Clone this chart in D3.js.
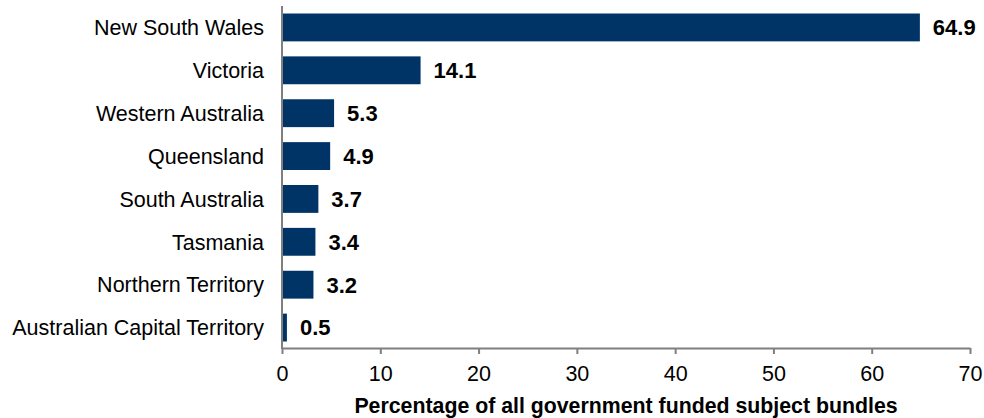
<!DOCTYPE html>
<html>
<head>
<meta charset="utf-8">
<script src="https://cdn.jsdelivr.net/npm/d3@7"></script>
<style>
  body { margin: 0; background: #fff; }
  text { font-family: "Liberation Sans", Arial, sans-serif; }
</style>
</head>
<body>
<svg id="chart"></svg>
<script>
const states = ["New South Wales", "Victoria", "Western Australia", "Queensland",
  "South Australia", "Tasmania", "Northern Territory", "Australian Capital Territory"];
const shares = [64.9, 14.1, 5.3, 4.9, 3.7, 3.4, 3.2, 0.5];
const xTicks = [0, 10, 20, 30, 40, 50, 60, 70];
const xTitle = "Percentage of all government funded subject bundles";

const width = 984, height = 418;
const data = states.map((s, i) => ({ state: s, value: shares[i] }));

const svg = d3.select("#chart")
  .attr("width", width)
  .attr("height", height);

// scales
const x = d3.scaleLinear().domain([0, 70]).range([282, 970]);
const y = d3.scaleBand()
  .domain(states)
  .range([6, 349])
  .paddingInner(0.35)
  .paddingOuter(0.175);

const barColor = "#003466";
const axisColor = "#7f7f7f";

// bars
svg.selectAll("rect.bar")
  .data(data)
  .enter()
  .append("rect")
  .attr("class", "bar")
  .attr("x", x(0))
  .attr("y", d => y(d.state))
  .attr("width", d => x(d.value) - x(0))
  .attr("height", y.bandwidth())
  .attr("fill", barColor);

// value labels
svg.selectAll("text.value")
  .data(data)
  .enter()
  .append("text")
  .attr("class", "value")
  .attr("x", d => x(d.value) + 13)
  .attr("y", d => y(d.state) + y.bandwidth() / 2)
  .attr("dy", "0.36em")
  .style("font-size", "22px")
  .style("font-weight", "bold")
  .attr("fill", "#000")
  .text(d => d.value.toFixed(1));

// category labels
svg.selectAll("text.cat")
  .data(data)
  .enter()
  .append("text")
  .attr("class", "cat")
  .attr("x", x(0) - 18)
  .attr("y", d => y(d.state) + y.bandwidth() / 2)
  .attr("dy", "0.36em")
  .attr("text-anchor", "end")
  .style("font-size", "21.5px")
  .attr("fill", "#000")
  .text(d => d.state);

// vertical axis line
svg.append("line")
  .attr("x1", x(0)).attr("x2", x(0))
  .attr("y1", 6).attr("y2", 349)
  .attr("stroke", axisColor)
  .attr("stroke-width", 2);

// x axis
const xAxis = svg.append("g")
  .attr("transform", "translate(0,348)")
  .call(d3.axisBottom(x).tickValues(xTicks).tickSize(6).tickSizeOuter(0).tickFormat(d3.format("d")));

xAxis.select(".domain").attr("stroke", axisColor).attr("stroke-width", 2);
xAxis.selectAll(".tick line").attr("stroke", axisColor).attr("stroke-width", 2);
xAxis.selectAll(".tick text")
  .attr("y", 18)
  .style("font-size", "21.5px")
  .style("font-family", "'Liberation Sans', Arial, sans-serif")
  .attr("fill", "#000");

// axis title
svg.append("text")
  .attr("x", (x(0) + x(70)) / 2)
  .attr("y", 413)
  .attr("text-anchor", "middle")
  .style("font-size", "21.3px")
  .style("font-weight", "bold")
  .attr("fill", "#000")
  .text(xTitle);
</script>
</body>
</html>
